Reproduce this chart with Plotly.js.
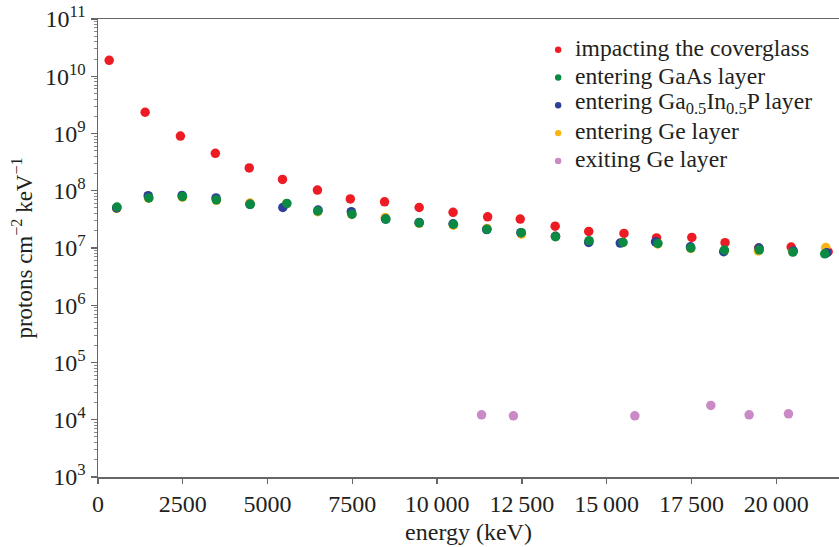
<!DOCTYPE html>
<html>
<head>
<meta charset="utf-8">
<script src="https://cdn.plot.ly/plotly-3.0.1.min.js"></script>
<style>html,body{margin:0;padding:0;background:#fff;}#chart{width:839px;height:547px;}</style>
</head>
<body>
<div id="chart"></div>
<script>
// ---- data ----
const seriesNames = ["impacting the coverglass", "entering GaAs layer", "entering Ga<sub>0.5</sub>In<sub>0.5</sub>P layer", "entering Ge layer", "exiting Ge layer"];
const seriesColors = ["#ed1c24", "#0b8a43", "#2e3f97", "#fbb414", "#c98ac6"];

const energyCoverglass = [330, 1390, 2430, 3460, 4460, 5440, 6470, 7440, 8450, 9470, 10470, 11490, 12450, 13480, 14470, 15510, 16470, 17510, 18490, 19480, 20440, 21530];
const fluxCoverglass = [1.9e10, 2.35e9, 9.0e8, 4.5e8, 2.5e8, 1.58e8, 1.03e8, 7.2e7, 6.4e7, 5.1e7, 4.2e7, 3.5e7, 3.2e7, 2.4e7, 1.95e7, 1.8e7, 1.5e7, 1.53e7, 1.24e7, 1.0e7, 1.04e7, 8.6e6];

const energyGaAs = [560, 1500, 2490, 3490, 4490, 5570, 6480, 7490, 8490, 9470, 10480, 11470, 12480, 13490, 14480, 15480, 16510, 17480, 18470, 19500, 20490, 21430];
const fluxGaAs = [5.2e7, 7.5e7, 7.9e7, 6.95e7, 5.8e7, 6.0e7, 4.45e7, 3.9e7, 3.2e7, 2.75e7, 2.6e7, 2.12e7, 1.85e7, 1.58e7, 1.34e7, 1.25e7, 1.2e7, 1.0e7, 9.2e6, 9.3e6, 8.5e6, 7.9e6];

const energyGaInP = [550, 1480, 2480, 3480, 4480, 5450, 6490, 7470, 8480, 9470, 10470, 11460, 12470, 13490, 14470, 15400, 16440, 17470, 18450, 19490, 20500, 21490];
const fluxGaInP = [5.0e7, 8.2e7, 8.3e7, 7.5e7, 5.8e7, 5.1e7, 4.6e7, 4.3e7, 3.2e7, 2.8e7, 2.65e7, 2.1e7, 1.85e7, 1.6e7, 1.25e7, 1.22e7, 1.28e7, 1.05e7, 8.6e6, 1.0e7, 8.9e6, 8.3e6];

const energyGeIn = [550, 1490, 2490, 3490, 4480, 5560, 6480, 7480, 8470, 9470, 10480, 11470, 12490, 13490, 14480, 15480, 16500, 17480, 18470, 19470, 20480, 21460];
const fluxGeIn = [4.9e7, 7.4e7, 7.7e7, 6.8e7, 6.1e7, 5.9e7, 4.3e7, 3.85e7, 3.4e7, 2.7e7, 2.5e7, 2.2e7, 1.75e7, 1.6e7, 1.3e7, 1.25e7, 1.18e7, 9.8e6, 9.0e6, 8.9e6, 8.6e6, 1.02e7];

const energyGeOut = [11310, 12250, 15830, 18070, 19200, 20360];
const fluxGeOut = [1.22e4, 1.17e4, 1.17e4, 1.78e4, 1.22e4, 1.27e4];

const xTickVals = [0, 2500, 5000, 7500, 10000, 12500, 15000, 17500, 20000];
const xTickText = ["0", "2500", "5000", "7500", "10\u2009000", "12\u2009500", "15\u2009000", "17\u2009500", "20\u2009000"];
const yTickVals = [1e3, 1e4, 1e5, 1e6, 1e7, 1e8, 1e9, 1e10, 1e11];
const yTickText = ["10<sup>3</sup>", "10<sup>4</sup>", "10<sup>5</sup>", "10<sup>6</sup>", "10<sup>7</sup>", "10<sup>8</sup>", "10<sup>9</sup>", "10<sup>10</sup>", "10<sup>11</sup>"];

// ---- traces (draw order: coverglass, Ge in, GaInP, GaAs, Ge out) ----
const xs = [energyCoverglass, energyGaAs, energyGaInP, energyGeIn, energyGeOut];
const ys = [fluxCoverglass, fluxGaAs, fluxGaInP, fluxGeIn, fluxGeOut];
const drawOrder = [0, 3, 2, 1, 4];
const traces = drawOrder.map(i => ({
  type: "scatter", mode: "markers", x: xs[i], y: ys[i], name: seriesNames[i],
  marker: {color: seriesColors[i], size: 9.5, line: {width: 0}},
  showlegend: false, hoverinfo: "skip", cliponaxis: false
}));

// ---- legend drawn as real text (compact rows like the reference) ----
const legendLeft = 0.641, legendDotX = 0.621, legendTop = 0.937, legendStep = 0.0607;
const annotations = [], shapes = [];
seriesNames.forEach((n, i) => {
  const yy = legendTop - i * legendStep;
  annotations.push({xref: "paper", yref: "paper", x: legendLeft, y: yy, xanchor: "left", yanchor: "middle",
    text: n, showarrow: false, font: {family: "Liberation Serif", size: 23.6, color: "#231f20"}});
  shapes.push({type: "circle", xref: "paper", yref: "paper", xsizemode: "pixel", ysizemode: "pixel",
    xanchor: legendDotX, yanchor: yy - 0.004, x0: -3.2, x1: 3.2, y0: -3.2, y1: 3.2,
    fillcolor: seriesColors[i], line: {width: 0}});
});

const font = {family: "Liberation Serif", size: 24, color: "#231f20"};
const layout = {
  width: 839, height: 547,
  margin: {l: 98, r: 0, t: 19, b: 70, pad: 0},
  paper_bgcolor: "#ffffff", plot_bgcolor: "#ffffff",
  font: font,
  showlegend: false,
  annotations: annotations, shapes: shapes,
  xaxis: {
    type: "linear", range: [0, 21850], autorange: false,
    tickvals: xTickVals, ticktext: xTickText,
    ticks: "outside", ticklen: 5, tickwidth: 1.3, tickcolor: "#666",
    showline: true, linecolor: "#666", linewidth: 1.5, mirror: true,
    showgrid: false, zeroline: false,
    tickfont: font,
    title: {text: "energy (keV)", font: font, standoff: 7}
  },
  yaxis: {
    type: "log", range: [3, 11], autorange: false,
    tickvals: yTickVals, ticktext: yTickText,
    ticks: "outside", ticklen: 6, tickwidth: 1.3, tickcolor: "#666",
    minor: {ticks: "outside", ticklen: 3, tickwidth: 1, tickcolor: "#888", dtick: "D1", showgrid: false},
    showline: true, linecolor: "#666", linewidth: 1.5,
    showgrid: false, zeroline: false,
    tickfont: font,
    title: {text: "protons cm<sup>\u22122</sup> keV<sup>\u22121</sup>", font: {family: "Liberation Serif", size: 23, color: "#231f20"}, standoff: 6}
  }
};
Plotly.newPlot("chart", traces, layout, {staticPlot: true, displayModeBar: false});
</script>
</body>
</html>
